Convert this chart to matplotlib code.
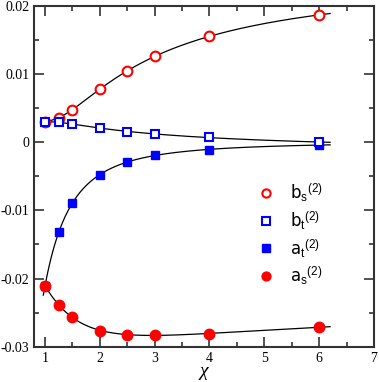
import numpy as np
import matplotlib
matplotlib.use("Agg")
import matplotlib.pyplot as plt
from matplotlib.ticker import MultipleLocator, FuncFormatter

plt.rcParams["axes.unicode_minus"] = False
plt.rcParams["mathtext.fontset"] = "custom"
plt.rcParams["mathtext.rm"] = "Liberation Sans"
plt.rcParams["mathtext.it"] = "Liberation Sans:italic"

# Data
chi = [1.0, 1.25, 1.5, 2.0, 2.5, 3.0, 4.0, 6.0]
b_s = [0.0029, 0.0036, 0.0048, 0.0078, 0.01044, 0.0126, 0.01556, 0.01868]
b_t = [0.0029, 0.0029, 0.0027, 0.0021, 0.00155, 0.00117, 0.00078, 0.0]
a_t = [-0.0211, -0.01323, -0.00893, -0.00474, -0.00293, -0.0019, -0.00108, -0.0004]
a_s = [-0.02108, -0.02387, -0.02568, -0.02763, -0.02821, -0.02832, -0.02807, -0.02714]

labels = [r"b$_\mathrm{s}$$^\mathrm{(2)}$", r"b$_\mathrm{t}$$^\mathrm{(2)}$",
          r"a$_\mathrm{t}$$^\mathrm{(2)}$", r"a$_\mathrm{s}$$^\mathrm{(2)}$"]

fig = plt.figure(figsize=(3.79, 3.82), dpi=100)
ax = fig.add_axes([0.0897, 0.0924, 0.897, 0.892])

# smooth fit curves in 1/chi
x = np.array(chi)
xf = np.linspace(0.97, 6.2, 300)
for ys in (b_s, b_t, a_t, a_s):
    coef = np.polyfit(1.0 / x, np.array(ys), 4)
    ax.plot(xf, np.polyval(coef, 1.0 / xf), color="black", lw=0.9, zorder=1)

h1, = ax.plot(chi, b_s, "o", ms=7, mfc="white", mec="red", mew=1.5, ls="none", zorder=3)
h2, = ax.plot(chi, b_t, "s", ms=6, mfc="white", mec="blue", mew=1.5, ls="none", zorder=4)
h3, = ax.plot(chi, a_t, "s", ms=6, color="blue", ls="none", zorder=3)
h4, = ax.plot(chi, a_s, "o", ms=7.5, color="red", ls="none", zorder=4)

ax.set_xlim(0.8, 7)
ax.set_ylim(-0.03, 0.02)
ax.xaxis.set_major_locator(MultipleLocator(1))
ax.xaxis.set_minor_locator(MultipleLocator(0.5))
ax.yaxis.set_major_locator(MultipleLocator(0.01))
ax.yaxis.set_minor_locator(MultipleLocator(0.005))
ax.yaxis.set_major_formatter(FuncFormatter(lambda v, p: "%g" % round(v, 4)))
ax.tick_params(which="both", direction="in", top=True, right=True, width=1.2,
               color="#333333", labelsize=10)
ax.tick_params(which="major", length=7)
ax.tick_params(which="minor", length=3.5)
for lab in ax.get_xticklabels() + ax.get_yticklabels():
    lab.set_family("Liberation Serif")
for s in ax.spines.values():
    s.set_linewidth(1.5)
    s.set_color("#333333")

ax.set_xlabel("χ", fontsize=14, family="Liberation Serif", style="italic", labelpad=-1)

leg = ax.legend([h1, h2, h3, h4], labels, frameon=False, loc="upper left",
                bbox_to_anchor=(0.615, 0.528), fontsize=12, handlelength=1.0,
                handletextpad=0.9, labelspacing=0.3, markerscale=0.85)

fig.savefig("out.png", dpi=100)
